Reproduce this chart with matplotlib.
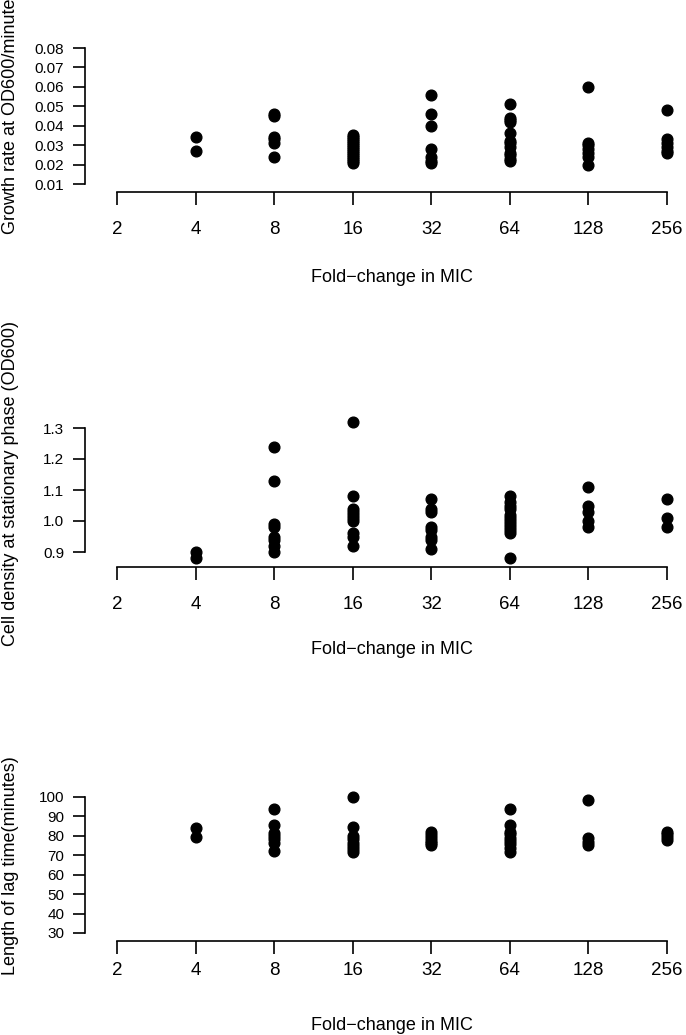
import matplotlib
matplotlib.use("Agg")
import matplotlib.pyplot as plt
import numpy as np

plt.rcParams['font.family'] = ['Liberation Sans', 'DejaVu Sans']

fold_labels = ['2', '4', '8', '16', '32', '64', '128', '256']

# growth rate (OD600/minute) per fold-change group
growth = {
    4: [0.034, 0.027],
    8: [0.046, 0.045, 0.034, 0.033, 0.031, 0.024],
    16: [0.035, 0.034, 0.033, 0.032, 0.031, 0.030, 0.029, 0.028, 0.027,
         0.026, 0.025, 0.024, 0.023, 0.022, 0.021],
    32: [0.056, 0.046, 0.040, 0.028, 0.024, 0.022, 0.021],
    64: [0.051, 0.044, 0.043, 0.042, 0.036, 0.032, 0.031, 0.029, 0.026,
         0.025, 0.023, 0.022],
    128: [0.060, 0.031, 0.030, 0.028, 0.026, 0.024, 0.020],
    256: [0.048, 0.033, 0.031, 0.029, 0.027, 0.026],
}

# cell density at stationary phase (OD600)
density = {
    4: [0.90, 0.88],
    8: [1.24, 1.13, 0.99, 0.98, 0.95, 0.94, 0.92, 0.90],
    16: [1.32, 1.08, 1.04, 1.03, 1.02, 1.01, 1.00, 0.96, 0.95, 0.92],
    32: [1.07, 1.04, 1.03, 0.98, 0.97, 0.95, 0.94, 0.91],
    64: [1.08, 1.06, 1.05, 1.04, 1.02, 1.01, 1.00, 0.99, 0.98, 0.97,
         0.96, 0.88],
    128: [1.11, 1.05, 1.03, 1.00, 0.98],
    256: [1.07, 1.01, 0.98],
}

# length of lag time (minutes)
lag = {
    4: [84, 79.5],
    8: [93.6, 85.4, 81.6, 79.9, 78.2, 76.5, 72.1],
    16: [100, 84.7, 79.9, 78.2, 76.4, 74.7, 73.0, 71.8],
    32: [81.9, 80.4, 79.0, 77.6, 76.4, 75.2],
    64: [93.6, 85.4, 82.1, 80.7, 79.0, 77.3, 75.6, 73.5, 71.8],
    128: [98.3, 78.7, 77.0, 75.2],
    256: [81.9, 80.7, 79.3, 78.1],
}

W, H = 686, 1035
fig = plt.figure(figsize=(W / 100, H / 100), dpi=100)

x_left, x_right = 117, 667

# panel settings: data, ylabel, yticks, tick labels, y px of top/bottom tick,
# x-axis line y px, ylabel centre y px, x tick label pad
panels = [
    (growth, 'Growth rate at OD600/minute',
     [0.01, 0.02, 0.03, 0.04, 0.05, 0.06, 0.07, 0.08],
     ['0.01', '0.02', '0.03', '0.04', '0.05', '0.06', '0.07', '0.08'],
     48, 184, 190, 116, 12),
    (density, 'Cell density at stationary phase (OD600)',
     [0.9, 1.0, 1.1, 1.2, 1.3],
     ['0.9', '1.0', '1.1', '1.2', '1.3'],
     428, 552, 563, 484, 12),
    (lag, 'Length of lag time(minutes)',
     [30, 40, 50, 60, 70, 80, 90, 100],
     ['30', '40', '50', '60', '70', '80', '90', '100'],
     797, 933, 939, 866, 6),
]

for data, ylab, yt, ytl, ytop, ybot, xaxis_y, ylab_c, xpad in panels:
    ax = fig.add_axes([x_left / W, 1 - ybot / H, (x_right - x_left) / W,
                       (ybot - ytop) / H])
    for fc, vals in data.items():
        ax.plot(np.full(len(vals), np.log2(fc)), vals, 'o', color='black',
                ms=7.7, clip_on=False)
    ax.set_xlim(1, 8)
    ax.set_ylim(yt[0], yt[-1])
    ax.spines['top'].set_visible(False)
    ax.spines['right'].set_visible(False)
    ax.spines['left'].set_position(('outward', x_left - 94))
    ax.spines['bottom'].set_position(('outward', xaxis_y - ybot))
    for s in ['left', 'bottom']:
        ax.spines[s].set_linewidth(1.2)
    ax.set_xticks(np.arange(1, 9))
    ax.set_xticklabels(fold_labels, fontsize=13.5)
    ax.set_yticks(yt)
    ax.set_yticklabels(ytl, fontsize=11)
    ax.tick_params(axis='x', length=9, width=1.2, pad=xpad)
    ax.tick_params(axis='y', length=9, width=1.2, pad=6)
    fig.text(392 / W, 1 - (xaxis_y + 87) / H, 'Fold\u2212change in MIC',
             fontsize=13, ha='center', va='center')
    fig.text(11 / W, 1 - ylab_c / H, ylab, fontsize=13, rotation=90,
             ha='center', va='center')

fig.savefig('out.png', dpi=100)
